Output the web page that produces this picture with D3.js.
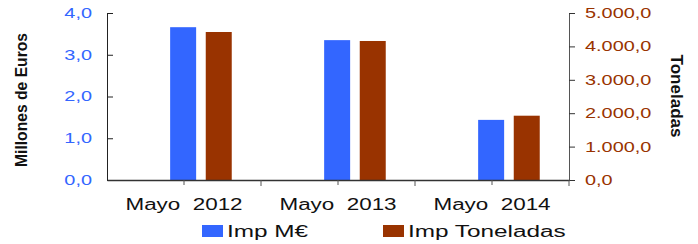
<!DOCTYPE html>
<html>
<head>
<meta charset="utf-8">
<script src="https://cdn.jsdelivr.net/npm/d3@7"></script>
<style>
  body { margin: 0; background: white; }
  svg { display: block; font-family: Arial, "Liberation Sans", sans-serif; }
</style>
</head>
<body>
<svg id="chart"></svg>
<script>
// data
var categories = ["Mayo  2012", "Mayo  2013", "Mayo  2014"];
var impEuros = [3.66, 3.35, 1.44];        // millones de euros
var impToneladas = [4431, 4162, 1925];   // toneladas
var seriesNames = ["Imp M\u20AC", "Imp Toneladas"];
var leftTicks = [0, 1, 2, 3, 4];
var rightTicks = [0, 1000, 2000, 3000, 4000, 5000];

var blue = "#3366FF";
var brown = "#993300";

var screen = {width:698, height:244};
var plot = {left:107, right:569, top:13, bottom:180};

var svg = d3.select("svg#chart")
    .attr("width", screen.width)
    .attr("height", screen.height)
    .style("background-color", "white");

// the original text is stretched sideways, do the same
var stretch = function(sel, k)
{
    sel.each(function() {
        var w = this.getComputedTextLength();
        d3.select(this)
            .attr("textLength", w * k)
            .attr("lengthAdjust", "spacingAndGlyphs");
    });
}

var x = d3.scaleBand()
    .domain(categories)
    .range([plot.left, plot.right]);

var x1 = d3.scaleBand()
    .domain(seriesNames)
    .range([x.bandwidth() * 0.41, x.bandwidth() * 0.81])
    .paddingInner(0.27);

var yLeft = d3.scaleLinear()
    .domain([0, 4])
    .range([plot.bottom, plot.top]);

var yRight = d3.scaleLinear()
    .domain([0, 5000])
    .range([plot.bottom, plot.top]);

var esLocale = d3.formatLocale({decimal:",", thousands:".", grouping:[3], currency:["", "\u20AC"]});
var fmt = esLocale.format(",.1f");

// bars
var bars = svg.append("g").classed("bars", true);

bars.selectAll("rect.euros")
    .data(impEuros)
    .enter()
    .append("rect")
    .classed("euros", true)
    .attr("x", function(d, i) { return x(categories[i]) + x1(seriesNames[0]); })
    .attr("width", x1.bandwidth())
    .attr("y", function(d) { return yLeft(d); })
    .attr("height", function(d) { return plot.bottom - yLeft(d); })
    .attr("fill", blue);

bars.selectAll("rect.tons")
    .data(impToneladas)
    .enter()
    .append("rect")
    .classed("tons", true)
    .attr("x", function(d, i) { return x(categories[i]) + x1(seriesNames[1]); })
    .attr("width", x1.bandwidth())
    .attr("y", function(d) { return yRight(d); })
    .attr("height", function(d) { return plot.bottom - yRight(d); })
    .attr("fill", brown);

// left axis, ticks pointing into the plot
var leftAxis = svg.append("g")
    .attr("transform", "translate(" + plot.left + ",0)")
    .call(d3.axisLeft(yLeft)
        .tickValues(leftTicks)
        .tickFormat(fmt)
        .tickSizeInner(-6)
        .tickSizeOuter(0)
        .tickPadding(15));
leftAxis.select(".domain").attr("stroke", "#222");
leftAxis.selectAll(".tick line").attr("stroke", "#222");
leftAxis.selectAll("text")
    .attr("fill", blue)
    .style("font-size", "14px")
    .call(stretch, 1.42);

// right axis
var rightAxis = svg.append("g")
    .attr("transform", "translate(" + plot.right + ",0)")
    .call(d3.axisRight(yRight)
        .tickValues(rightTicks)
        .tickFormat(fmt)
        .tickSizeInner(6)
        .tickSizeOuter(0)
        .tickPadding(10));
rightAxis.select(".domain").attr("stroke", "#555");
rightAxis.selectAll(".tick line").attr("stroke", "#333");
rightAxis.selectAll("text")
    .attr("fill", brown)
    .style("font-size", "14px")
    .call(stretch, 1.42);

// bottom axis
var bottomAxis = svg.append("g")
    .attr("transform", "translate(0," + plot.bottom + ")")
    .call(d3.axisBottom(x)
        .tickSizeInner(5)
        .tickSizeOuter(0)
        .tickPadding(14));
bottomAxis.select(".domain").attr("stroke", "#333").attr("stroke-width", 1.5);
bottomAxis.selectAll(".tick line").attr("stroke", "#555");
bottomAxis.selectAll("text")
    .attr("fill", "#111")
    .style("font-size", "16px")
    .style("white-space", "pre")
    .call(stretch, 1.4);

// ticks between the categories
bottomAxis.selectAll("line.sep")
    .data(categories)
    .enter()
    .append("line")
    .classed("sep", true)
    .attr("x1", function(d) { return x(d) + x.bandwidth(); })
    .attr("x2", function(d) { return x(d) + x.bandwidth(); })
    .attr("y1", 0)
    .attr("y2", 6)
    .attr("stroke", "#555");

// axis titles
var labels = svg.append("g").classed("labels", true);

labels.append("text")
    .text("Millones de Euros")
    .attr("transform", "translate(27,100) scale(1.3,1) rotate(-90)")
    .attr("text-anchor", "middle")
    .style("font-size", "13px")
    .style("font-weight", "bold")
    .attr("fill", "#111")
    .attr("textLength", 134)
    .attr("lengthAdjust", "spacingAndGlyphs");

labels.append("text")
    .text("Toneladas")
    .attr("transform", "translate(671,96) scale(1.3,1) rotate(90)")
    .attr("text-anchor", "middle")
    .style("font-size", "13px")
    .style("font-weight", "bold")
    .attr("fill", "#111")
    .attr("textLength", 83)
    .attr("lengthAdjust", "spacingAndGlyphs");

// legend
var legendX = [202, 383];
var legend = svg.append("g").classed("legend", true);

var items = legend.selectAll("g")
    .data(seriesNames)
    .enter()
    .append("g")
    .attr("transform", function(d, i) { return "translate(" + legendX[i] + ",225)"; });

items.append("rect")
    .attr("width", 21)
    .attr("height", 12)
    .attr("fill", function(d, i) { return i == 0 ? blue : brown; });

items.append("text")
    .text(function(d) { return d; })
    .attr("x", 25)
    .attr("y", 12)
    .attr("fill", "#111")
    .style("font-size", "16px")
    .call(stretch, 1.52);
</script>
</body>
</html>
